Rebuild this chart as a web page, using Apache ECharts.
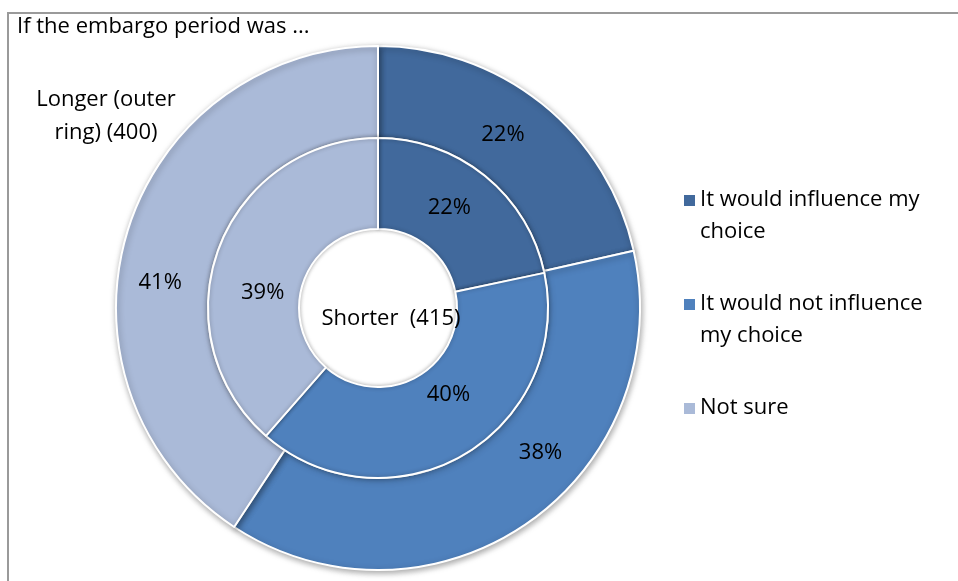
<!DOCTYPE html>
<html>
<head>
<meta charset="utf-8">
<script src="https://cdn.jsdelivr.net/npm/echarts@6/dist/echarts.min.js"></script>
<style>
  html, body { margin: 0; padding: 0; background: #fff; }
  #chart { width: 958px; height: 581px; }
</style>
</head>
<body>
<div id="chart"></div>
<script>
// answers (legend names)
const answers = [
  "It would influence my choice",
  "It would not influence my choice",
  "Not sure",
];
// legend text with line breaks like the original
const legendLabels = [
  "It would influence my\nchoice",
  "It would not influence\nmy choice",
  "Not sure\n ",
];
// respondents: longer embargo (outer ring, n=400) and shorter (inner ring, n=415)
const longerCounts = [86, 151, 163];
const shorterCounts = [90, 165, 160];

const colors = ["#41699c", "#4f81bd", "#aabad8"];
const font = "Open Sans";
const fs = 22;

// small nudges so the % labels sit where the original put them (per series index)
const labelNudge = [
  [[-12, -2], [38, -35], [-8, 37]],
  [[-9, -1], [6, -23], [4, 30]],
];

var chartDom = document.getElementById("chart");
var myChart = echarts.init(chartDom);
var option;

function toData(counts) {
  return counts.map(function (v, i) {
    return { name: answers[i], value: v };
  });
}

var pctLabel = {
  show: true,
  position: "inside",
  color: "#000",
  fontFamily: font,
  fontSize: fs,
  formatter: function (p) {
    return Math.round(p.percent) + "%";
  },
};

function nudge(params) {
  var s = labelNudge[params.seriesIndex] || [];
  var n = s[params.dataIndex] || [0, 0];
  return { dx: n[0], dy: n[1] };
}

option = {
  color: colors,
  animation: false,
  graphic: [
    {
      type: "rect",
      shape: { x: 8, y: 13, width: 980, height: 600 },
      style: { fill: "none", stroke: "#9a9a9a", lineWidth: 2 },
      z: -1,
    },
  ],
  title: [
    {
      text: "If the embargo period was ...",
      left: 12,
      top: 11,
      textStyle: { fontFamily: font, fontSize: fs, fontWeight: "normal", color: "#000" },
    },
    {
      text: "Longer (outer\nring) (400)",
      left: 101,
      top: 78,
      textAlign: "center",
      textStyle: { fontFamily: font, fontSize: fs, fontWeight: "normal", color: "#000", lineHeight: 33 },
    },
    {
      text: "Shorter  (415)",
      left: 386,
      top: 303,
      textAlign: "center",
      textStyle: { fontFamily: font, fontSize: fs, fontWeight: "normal", color: "#000" },
      z: 10,
    },
  ],
  legend: {
    orient: "vertical",
    left: 679,
    top: 179,
    itemWidth: 11,
    itemHeight: 64,
    itemGap: 40,
    icon: "path://M0 0h0.01v0.01h-0.01z M0 11h11v11h-11z M0 64h0.01v0.01h-0.01z",
    itemStyle: { borderWidth: 0 },
    data: answers,
    formatter: function (name) {
      return legendLabels[answers.indexOf(name)];
    },
    textStyle: { fontFamily: font, fontSize: fs, color: "#000", lineHeight: 32 },
  },
  series: [
    {
      name: "Longer",
      type: "pie",
      center: [378, 308],
      radius: [170, 262],
      startAngle: 90,
      clockwise: true,
      silent: true,
      label: pctLabel,
      labelLine: { show: false },
      labelLayout: nudge,
      itemStyle: {
        borderColor: "#fff",
        borderWidth: 2,
        shadowBlur: 6,
        shadowOffsetX: 1,
        shadowOffsetY: 2,
        shadowColor: "rgba(0,0,0,0.35)",
      },
      data: toData(longerCounts),
    },
    {
      name: "Shorter",
      type: "pie",
      center: [378, 308],
      radius: [79, 170],
      startAngle: 90,
      clockwise: true,
      silent: true,
      label: pctLabel,
      labelLine: { show: false },
      labelLayout: nudge,
      itemStyle: {
        borderColor: "#fff",
        borderWidth: 2,
        shadowBlur: 4,
        shadowColor: "rgba(0,0,0,0.3)",
      },
      data: toData(shorterCounts),
    },
  ],
};

option && myChart.setOption(option);
</script>
</body>
</html>
